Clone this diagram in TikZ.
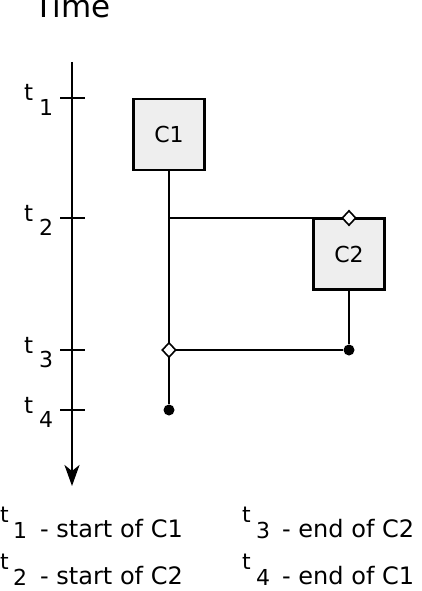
\documentclass[tikz,border=0pt]{standalone}
\usepackage{fontspec}
\setmainfont{DejaVu Sans}
\usetikzlibrary{arrows.meta,shapes.geometric}
\definecolor{boxgray}{HTML}{EEEEEE}
\tikzset{
  lw/.style={line width=2.4pt},
  cbox/.style={draw, line width=2.6pt, fill=boxgray, minimum width=71pt, minimum height=71pt, inner sep=0pt, font=\fontsize{22}{22}\selectfont},
  dia/.style={diamond, draw, fill=white, line width=1.6pt, minimum width=14pt, minimum height=15pt, inner sep=0pt},
  blob/.style={circle, fill=black, minimum size=11pt, inner sep=0pt},
  tickt/.style={anchor=base west, inner sep=0pt, font=\fontsize{23}{23}\selectfont},
  ticksub/.style={anchor=base west, inner sep=0pt, font=\fontsize{22}{22}\selectfont},
  legt/.style={anchor=base west, inner sep=0pt, font=\fontsize{22}{22}\selectfont},
  legsub/.style={anchor=base west, inner sep=0pt, font=\fontsize{22}{22}\selectfont},
  legtext/.style={anchor=base west, inner sep=0pt, font=\fontsize{24}{24}\selectfont},
}
\begin{document}
\begin{tikzpicture}[x=1pt,y=-1pt]
\useasboundingbox (0,0) rectangle (421,591);
% title
\node[anchor=base, inner sep=0pt, font=\fontsize{31}{31}\selectfont] (title) at (72.5,18) {Time};
% axis
\coordinate (axtop) at (72,62);
\coordinate (axbot) at (72,486);
\draw[lw, -{Stealth[length=21pt,width=15pt,inset=6pt]}] (axtop) -- (axbot);
\foreach \n/\y in {1/98,2/218,3/350,4/410}{
  \coordinate (tk\n) at (72,\y);
  \draw[lw] ([xshift=-12pt]tk\n) -- ([xshift=13pt]tk\n);
  \node[tickt] (tt\n) at (24,\y+3) {t};
  \node[ticksub] (ts\n) at (39,\y+17) {\n};
}
% components
\coordinate (j1) at (169,218);
\node[blob] (e1) at (169,410) {};
\node[blob] (e2) at (349,350) {};
\draw[lw] (169,170) -- (e1);
\draw[lw] (j1) -- (349,218);
\draw[lw] (349,290) -- (e2);
\draw[lw] (e2) -- (169,350);
\node[cbox] (C1) at (169,134.5) {C1};
\node[cbox] (C2) at (349,254) {C2};
\draw[lw] (C1.south) -- (j1);
\draw[lw] (C2.south) -- (e2);
\node[dia] (d1) at (349,218) {};
\node[dia] (d2) at (169,350) {};
% legend
\node[legt] (lt1) at (0,522) {t};
\node[legsub] (ls1) at (13,538) {1};
\node[legtext] (lx1) at (40,537) {- start of C1};
\node[legt] (lt2) at (0,569) {t};
\node[legsub] (ls2) at (13,585) {2};
\node[legtext] (lx2) at (40,584) {- start of C2};
\node[legt] (lt3) at (242,522) {t};
\node[legsub] (ls3) at (256,538) {3};
\node[legtext] (lx3) at (282,537) {- end of C2};
\node[legt] (lt4) at (242,569) {t};
\node[legsub] (ls4) at (256,585) {4};
\node[legtext] (lx4) at (282,584) {- end of C1};
\end{tikzpicture}
\end{document}
